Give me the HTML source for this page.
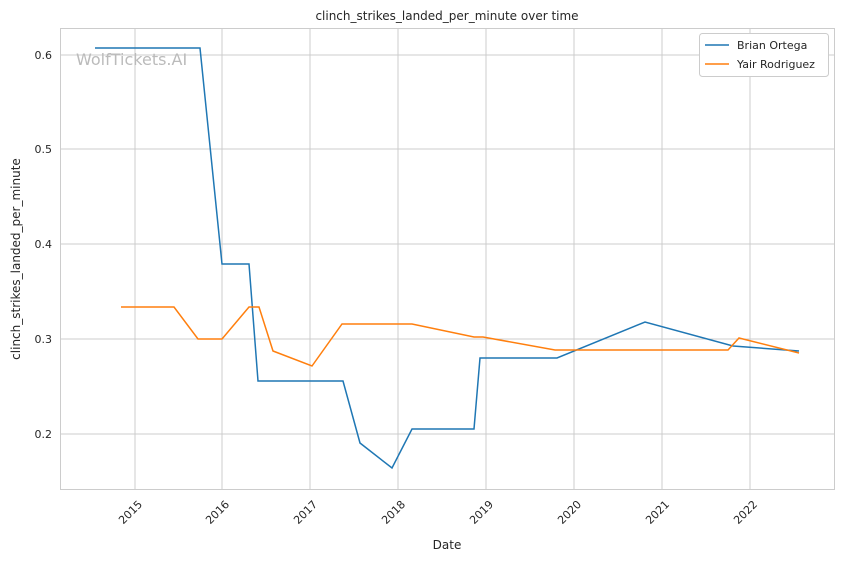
<!DOCTYPE html>
<html><head><style>
body{margin:0;background:#fff;}
text{font-family:"DejaVu Sans","Liberation Sans",sans-serif;fill:#262626;}
</style></head><body>
<svg width="844" height="561" viewBox="0 0 844 561" xmlns="http://www.w3.org/2000/svg">
<rect width="844" height="561" fill="#fff"/>
<g stroke="#cccccc" stroke-width="1">
<line x1="135" y1="28" x2="135" y2="490"/><line x1="222" y1="28" x2="222" y2="490"/>
<line x1="310" y1="28" x2="310" y2="490"/><line x1="398" y1="28" x2="398" y2="490"/>
<line x1="486" y1="28" x2="486" y2="490"/><line x1="574" y1="28" x2="574" y2="490"/>
<line x1="662" y1="28" x2="662" y2="490"/><line x1="750" y1="28" x2="750" y2="490"/>
<line x1="60" y1="55" x2="835" y2="55"/><line x1="60" y1="149" x2="835" y2="149"/>
<line x1="60" y1="244" x2="835" y2="244"/><line x1="60" y1="339" x2="835" y2="339"/>
<line x1="60" y1="434" x2="835" y2="434"/>
</g>
<rect x="60.5" y="28.5" width="774" height="461" fill="none" stroke="#cccccc"/>
<text x="76" y="65" font-size="16" style="fill:#bbbbbb">WolfTickets.AI</text>
<polyline fill="none" stroke="#1f77b4" stroke-width="1.5" points="95,48 200,48 222,264 249,264 258,381 343,381 360,443 392,468 412,429 474,429 480,358 557,358 645,322 733,346 799,351"/>
<polyline fill="none" stroke="#ff7f0e" stroke-width="1.5" points="121,307 174,307 198,339 222,339 249,307 259,307 273,351 312,366 342,324 412,324 474,337 483,337 555,350 728,350 739,338 799,353"/>
<g font-size="11" text-anchor="end">
<text x="52" y="59">0.6</text><text x="52" y="153">0.5</text><text x="52" y="248">0.4</text>
<text x="52" y="343">0.3</text><text x="52" y="438">0.2</text>
</g>
<g font-size="11" text-anchor="end">
<text transform="translate(143,505) rotate(-45)">2015</text>
<text transform="translate(230,505) rotate(-45)">2016</text>
<text transform="translate(318,505) rotate(-45)">2017</text>
<text transform="translate(406,505) rotate(-45)">2018</text>
<text transform="translate(494,505) rotate(-45)">2019</text>
<text transform="translate(582,505) rotate(-45)">2020</text>
<text transform="translate(670,505) rotate(-45)">2021</text>
<text transform="translate(758,505) rotate(-45)">2022</text>
</g>
<text x="447" y="549" font-size="12" text-anchor="middle">Date</text>
<text transform="translate(20,259) rotate(-90)" font-size="12" text-anchor="middle">clinch_strikes_landed_per_minute</text>
<text x="447" y="20" font-size="12" text-anchor="middle">clinch_strikes_landed_per_minute over time</text>
<rect x="699.5" y="33.5" width="129" height="43" rx="3" fill="#fff" stroke="#cccccc"/>
<line x1="705" y1="45" x2="729" y2="45" stroke="#1f77b4" stroke-width="1.5"/>
<line x1="705" y1="64" x2="729" y2="64" stroke="#ff7f0e" stroke-width="1.5"/>
<text x="737" y="49" font-size="11">Brian Ortega</text>
<text x="737" y="68" font-size="11">Yair Rodriguez</text>
</svg>
</body></html>
